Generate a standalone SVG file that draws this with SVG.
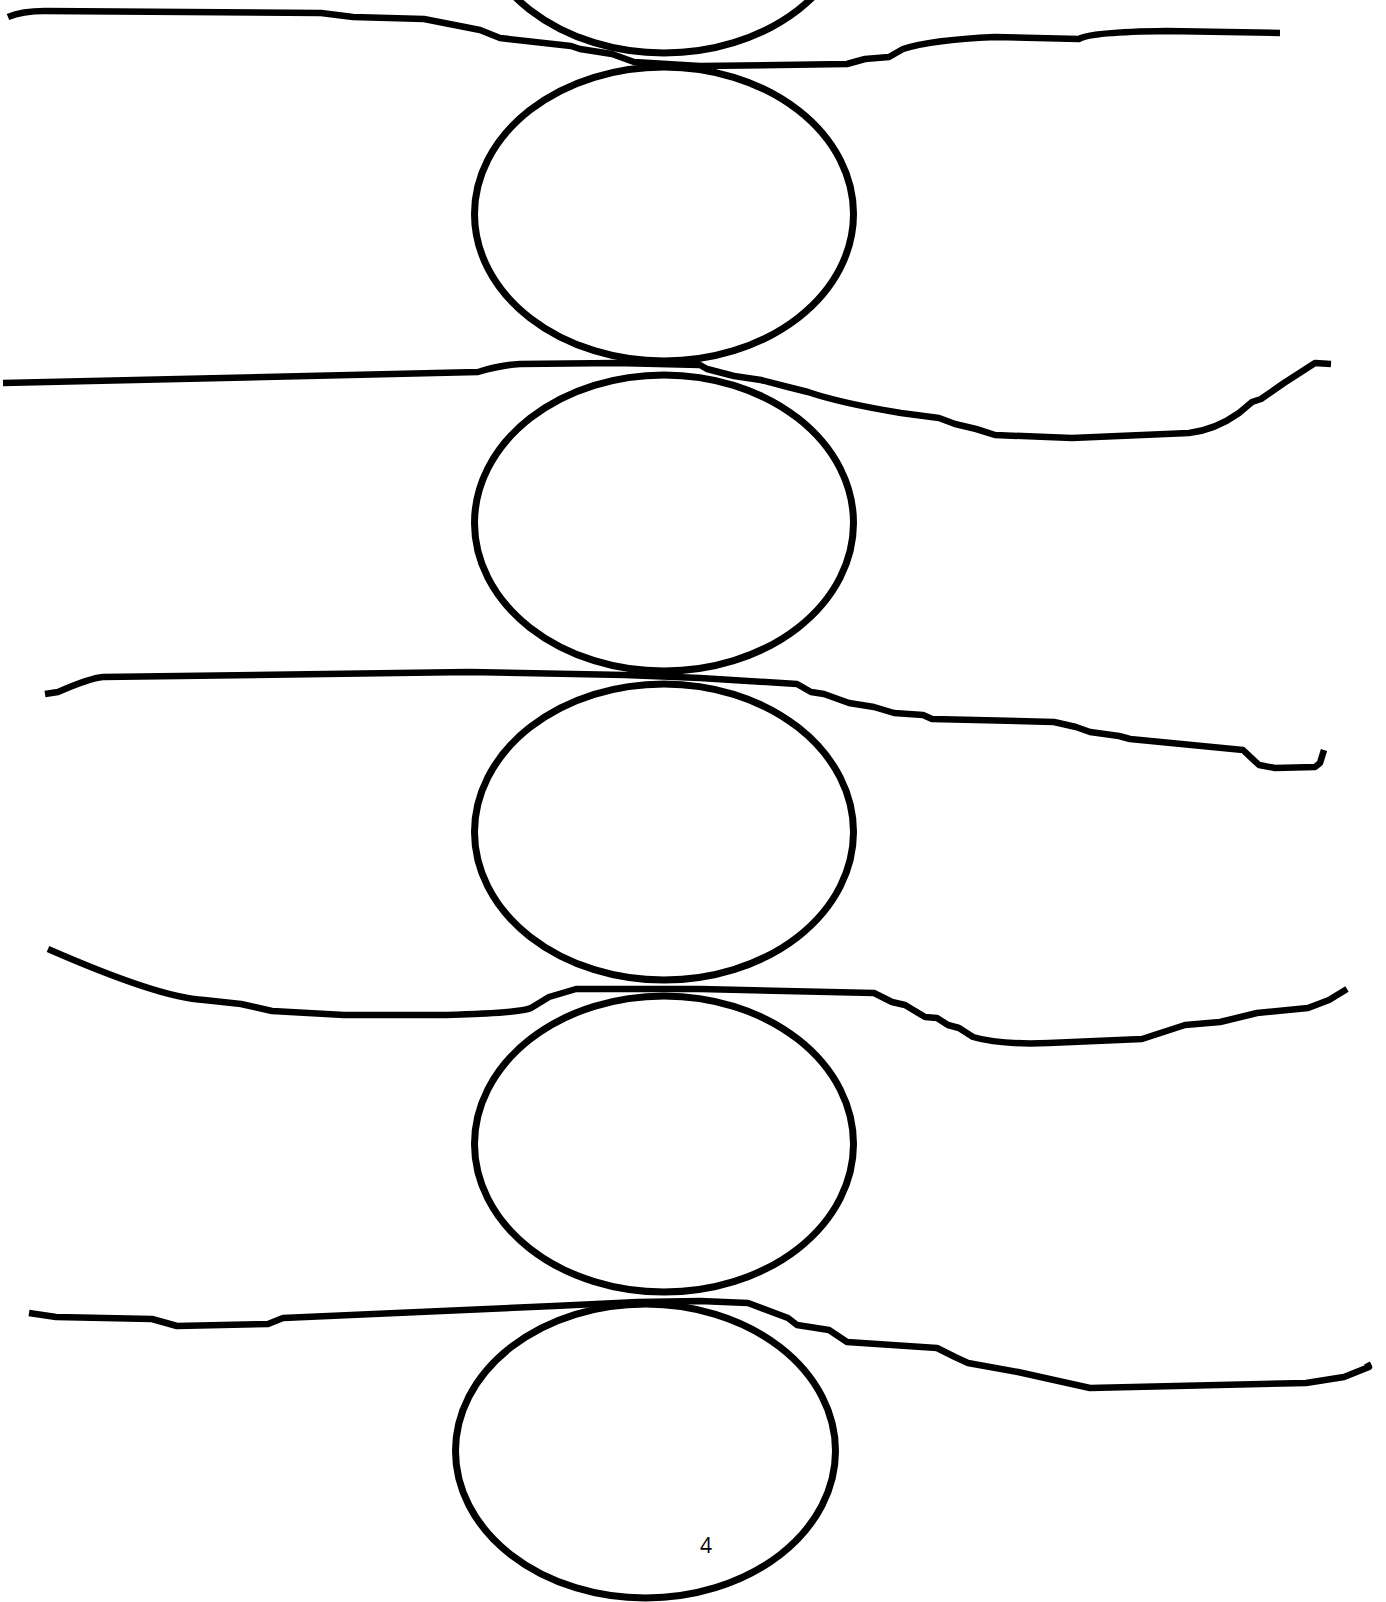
<svg xmlns="http://www.w3.org/2000/svg" width="1386" height="1602" viewBox="0 0 1386 1602">
<style>
.node{fill:none;stroke:#000;stroke-width:7}
.line{fill:none;stroke:#000;stroke-width:6.5;stroke-linejoin:round}
.lbl{font-family:"Open Sans","Liberation Sans",sans-serif;font-size:21px;fill:#000}
</style>
<rect width="1386" height="1602" fill="#fff"/>
<g id="node0"><ellipse class="node" cx="664" cy="-94" rx="189.5" ry="147"/></g>
<g id="node1"><ellipse class="node" cx="664" cy="214" rx="189.5" ry="147"/></g>
<g id="node2"><ellipse class="node" cx="664" cy="523" rx="189.5" ry="148"/></g>
<g id="node3"><ellipse class="node" cx="664" cy="832" rx="189.5" ry="148"/></g>
<g id="node4"><ellipse class="node" cx="664" cy="1144" rx="189.5" ry="148"/></g>
<g id="node5"><ellipse class="node" cx="645.5" cy="1451" rx="190" ry="147"/></g>
<g id="connectors">
<path class="line" d="M8,17 Q22,11 45,11 L321,13 L353,17 L424,19 L480,30 L500,38 L571,46 L580,49 L612,54 L634,62 L700,66 L847,64 L865,59 L889,57 L903,49 Q930,40 995,37 L1079,39 Q1090,32 1166,31 L1280,33"/>
<path class="line" d="M3,383 L478,372 Q500,365 520,364 L616,363 L700,365 L707,369 L734,376 L761,380 L788,387 L808,392 Q840,403 901,413 L939,418 L955,424 Q975,428 995,435 L1072,438 L1189,433 Q1215,430 1239,413 L1252,402 L1261,399 L1284,383 L1315,363 L1331,364"/>
<path class="line" d="M45,694 L58,692 Q90,678 103,677 L469,672 L625,675 L700,678 L797,684 L811,692 L824,694 L849,703 L874,707 L894,713 L923,715 L932,719 L1054,722 L1076,727 L1090,732 L1119,736 L1130,739 L1243,750 L1259,765 L1275,768 L1315,767 L1320,763 L1324,750"/>
<path class="line" d="M48,949 Q160,998 204,1000 L241,1004 L272,1011 L344,1015 L446,1015 Q520,1013 531,1008 L549,997 L576,989 L700,989 L874,993 L892,1002 L905,1005 L925,1017 L937,1018 L948,1025 L959,1028 L973,1037 Q1000,1045 1049,1043 L1142,1039 L1185,1025 L1220,1022 L1257,1013 L1308,1008 L1329,1000 L1347,989"/>
<path class="line" d="M29,1313 L56,1317 L152,1319 L177,1326 L268,1324 L283,1318 L554,1306 L638,1302 L700,1301 L748,1303 L788,1318 L797,1325 L829,1330 L847,1342 L937,1348 L955,1357 L968,1363 L1018,1372 L1090,1388 L1306,1383 L1344,1377 L1369,1367 L1367,1363"/>
</g>
<text class="lbl" x="706" y="1553" text-anchor="middle">4</text>
</svg>
